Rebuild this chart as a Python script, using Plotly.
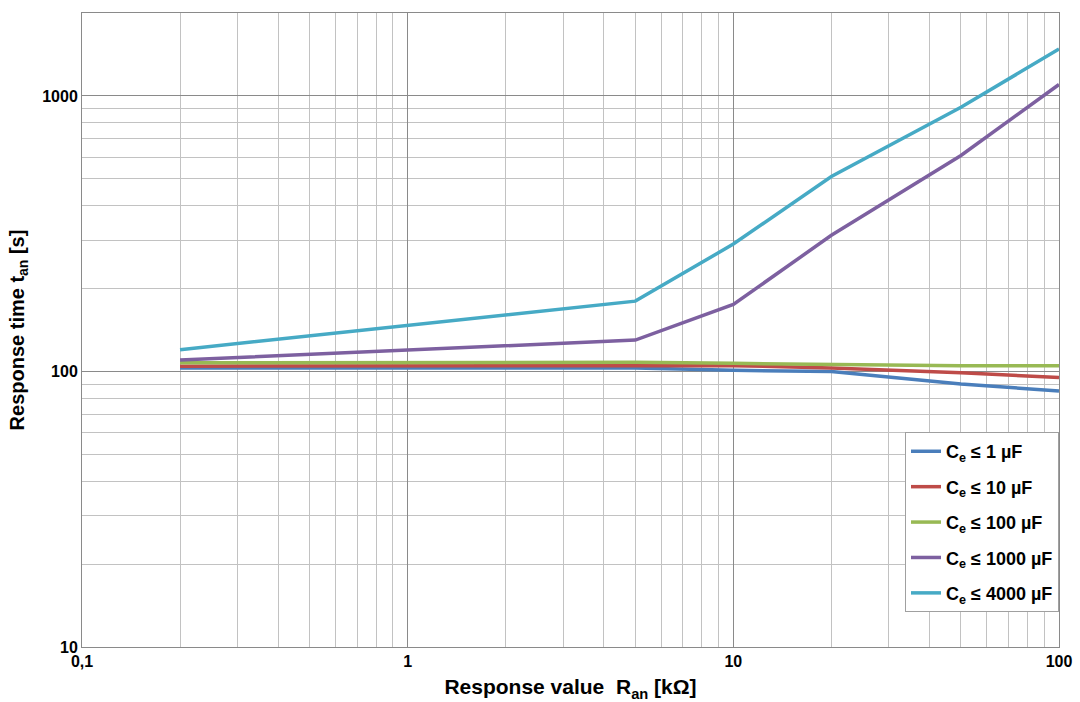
import plotly.graph_objects as go

x_vals = [0.2, 5, 10, 20, 50, 100]
ce_1 = [103, 103, 101, 100, 90, 85]
ce_10 = [104.5, 105, 105, 103, 99, 95]
ce_100 = [107.5, 108, 107, 106, 105, 105]
ce_1000 = [110, 130, 175, 312, 608, 1100]
ce_4000 = [120, 180, 290, 510, 910, 1480]

names = ["C<sub>e</sub> ≤ 1 µF", "C<sub>e</sub> ≤ 10 µF", "C<sub>e</sub> ≤ 100 µF",
         "C<sub>e</sub> ≤ 1000 µF", "C<sub>e</sub> ≤ 4000 µF"]
colors = ["#4a7ebb", "#be4b48", "#98b954", "#7d60a0", "#46aac5"]
series = [ce_1, ce_10, ce_100, ce_1000, ce_4000]

x_tickvals = [0.1, 1, 10, 100]
x_ticktext = ["0,1", "1", "10", "100"]
y_tickvals = [10, 100, 1000]
y_ticktext = ["10", "100", "1000"]

fig = go.Figure()
for i, (nm, col, ys) in enumerate(zip(names, colors, series)):
    fig.add_trace(go.Scatter(x=x_vals, y=ys, mode="lines", name=nm,
                             line=dict(color=col, width=3.5),
                             legendgroup=str(i)))

font_fam = "Liberation Sans, Arial, sans-serif"
fig.update_layout(
    width=1080, height=702,
    margin=dict(l=82, r=21, t=13, b=55),
    plot_bgcolor="white", paper_bgcolor="white",
    font=dict(family=font_fam, color="black"),
    showlegend=True,
    legend=dict(x=1.0, y=0.339, xanchor="right", yanchor="top",
                bgcolor="white", bordercolor="#a0a0a0", borderwidth=1,
                font=dict(size=18, family=font_fam, weight="bold"),
                tracegroupgap=9, traceorder="grouped"),
)
fig.update_xaxes(
    type="log", range=[-1, 2], automargin=False,
    tickvals=x_tickvals, ticktext=x_ticktext,
    tickfont=dict(size=16, weight="bold"),
    showgrid=True, gridcolor="#8a8a8a", gridwidth=1,
    minor=dict(dtick="D1", showgrid=True, gridcolor="#c2c2c2", gridwidth=1, ticks=""),
    showline=True, linecolor="#8a8a8a", linewidth=1, mirror=True,
    ticks="", zeroline=False,
    title=dict(text="Response value  R<sub>an</sub> [kΩ]", font=dict(size=21, weight="bold"), standoff=10),
)
fig.update_yaxes(
    type="log", range=[1, 3.301], automargin=False,
    tickvals=y_tickvals, ticktext=y_ticktext,
    tickfont=dict(size=16, weight="bold"),
    showgrid=True, gridcolor="#8a8a8a", gridwidth=1,
    minor=dict(dtick="D1", showgrid=True, gridcolor="#c2c2c2", gridwidth=1, ticks=""),
    showline=True, linecolor="#8a8a8a", linewidth=1, mirror=True,
    ticks="", zeroline=False,
    title=dict(text="Response time t<sub>an</sub> [s]", font=dict(size=20, weight="bold"), standoff=12),
)

fig.write_html("out.html", config={"displayModeBar": False},
               post_script="document.body.style.margin='0';")
